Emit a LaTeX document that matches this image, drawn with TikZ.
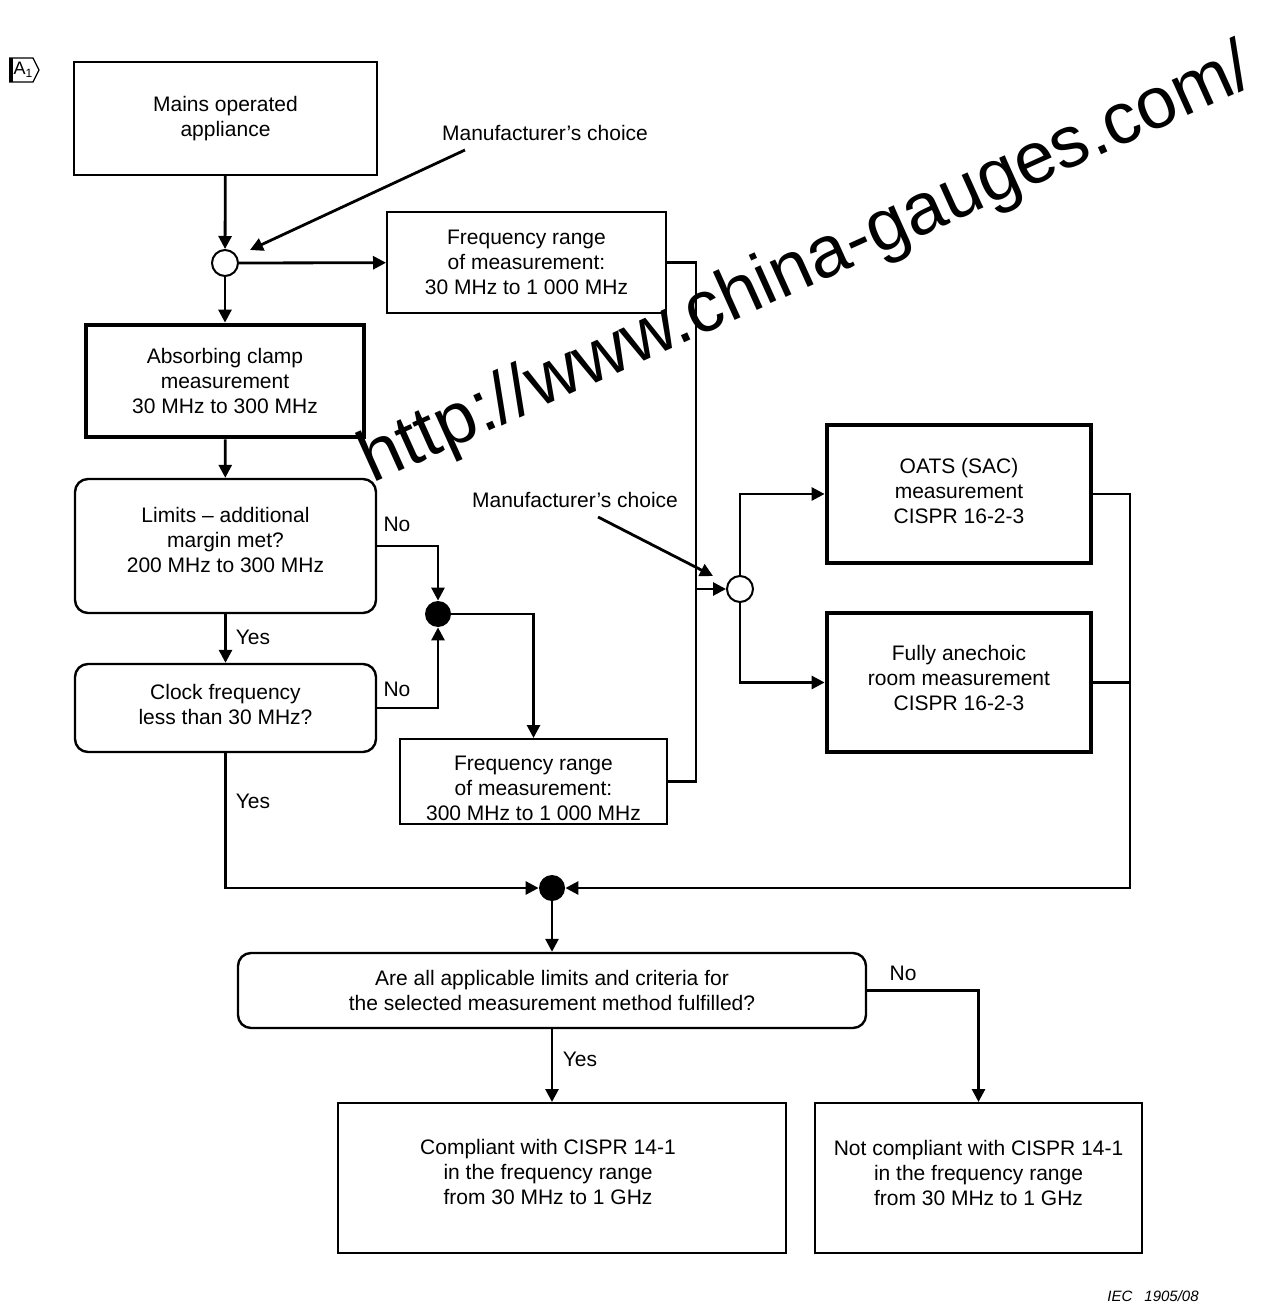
\documentclass[tikz,border=0pt]{standalone}
\usepackage{fontspec}
\setmainfont{Liberation Sans}
\usetikzlibrary{arrows.meta}
\begin{document}
\begin{tikzpicture}[x=0.5pt,y=-0.5pt,
  font=\fontsize{10.5pt}{12.5pt}\selectfont,
  >={Triangle[length=6.5pt,width=6.5pt]},
  conn/.style={line width=1.4pt},
  box/.style={draw,line width=1pt,align=center,inner sep=0pt},
  thickbox/.style={box,line width=2.4pt},
  rbox/.style={box,line width=1.2pt,rounded corners=6.5pt},
  sz/.style 2 args={minimum width=#1*0.5pt,minimum height=#2*0.5pt},
  junc/.style={circle,draw,line width=1pt,fill=white,minimum size=13pt,inner sep=0pt},
  dot/.style={circle,fill=black,minimum size=13pt,inner sep=0pt},
  lbl/.style={inner sep=0pt},
  btext/.style={inner sep=0pt,align=center}]
\useasboundingbox (0,0) rectangle (1281,1304);

% A1 marker
\fill (9,58) rectangle (13,82);
\draw[line width=0.6pt] (9,58) -- (33,58) -- (39,70) -- (33,82) -- (9,82);
\node[lbl,font=\fontsize{9pt}{10pt}\selectfont] (a1) at (23,70) {A\raisebox{-0.35ex}{\fontsize{6pt}{7pt}\selectfont 1}};

% watermark
\node[lbl,font=\fontsize{36.4pt}{40pt}\selectfont,rotate=24.3,anchor=base west] (wm) at (372,484) {http://www.china-gauges.com/};

% nodes
\node[box,sz={303}{113}] (mains) at (225.5,118.5) {Mains operated\\appliance};
\node[junc] (c1) at (225,263) {};
\node[box,sz={279}{101}] (freq1) at (526.5,262.5) {Frequency range\\of measurement:\\30 MHz to 1 000 MHz};
\node[thickbox,sz={278}{112}] (absorb) at (225,381) {Absorbing clamp\\measurement\\30 MHz to 300 MHz};
\node[rbox,sz={301}{134}] (limits) at (225.5,546) {};
\node[btext] (limitstext) at (225.5,540) {Limits – additional\\margin met?\\200 MHz to 300 MHz};
\node[rbox,sz={301}{88}] (clock) at (225.5,708) {};
\node[btext] (clocktext) at (225.5,704) {Clock frequency\\less than 30 MHz?};
\node[dot] (d1) at (438,614) {};
\node[box,sz={267}{85}] (freq2) at (533.5,781.5) {};
\node[btext] (freq2text) at (533.5,788) {Frequency range\\of measurement:\\300 MHz to 1 000 MHz};
\node[junc] (c2) at (740,589) {};
\node[thickbox,sz={264}{138}] (oats) at (959,494) {};
\node[btext] (oatstext) at (959,491) {OATS (SAC)\\measurement\\CISPR 16-2-3};
\node[thickbox,sz={264}{139}] (anech) at (959,682.5) {};
\node[btext] (anechtext) at (959,678) {Fully anechoic\\room measurement\\CISPR 16-2-3};
\node[dot] (d2) at (552,888) {};
\node[rbox,sz={628}{75}] (quest) at (552,990.5) {Are all applicable limits and criteria for\\the selected measurement method fulfilled?};
\node[box,sz={448}{150}] (comp) at (562,1178) {};
\node[btext] (comptext) at (548,1172) {Compliant with CISPR 14-1\\in the frequency range\\from 30 MHz to 1 GHz};
\node[box,sz={327}{150}] (ncomp) at (978.5,1178) {};
\node[btext] (ncomptext) at (978.5,1173) {Not compliant with CISPR 14-1\\in the frequency range\\from 30 MHz to 1 GHz};

% labels
\node[lbl] (mc1) at (545,133) {Manufacturer’s choice};
\node[lbl] (mc2) at (575,500) {Manufacturer’s choice};
\node[lbl] (no1) at (397,524) {No};
\node[lbl] (no2) at (397,689) {No};
\node[lbl] (yes1) at (253,637) {Yes};
\node[lbl] (yes2) at (253,801) {Yes};
\node[lbl] (yes3) at (580,1059) {Yes};
\node[lbl] (no3) at (903,973) {No};
\node[lbl,font=\fontsize{7.5pt}{9pt}\selectfont\itshape] (iec) at (1153,1296) {IEC\hspace{6pt}1905/08};

% connectors
\coordinate (m1a) at (465,150);
\coordinate (m1b) at (250,250);
\coordinate (m2a) at (598,517);
\coordinate (m2b) at (713,576);
\coordinate (bus) at (696,589);
\coordinate (rbus) at (1130,888);

\draw[conn,->] (m1a) -- (m1b);
\draw[conn,->] (m2a) -- (m2b);
\draw[conn,->] (mains) -- (c1);
\draw[conn,->] (c1) -- (freq1);
\draw[conn,->] (c1) -- (absorb);
\draw[conn,->] (absorb) -- (limits);
\draw[conn,->] (limits) -- (clock);
\draw[conn,->] (limits.east) -| (d1.north);
\draw[conn,->] (clock.east) -| (d1.south);
\draw[conn,->] (d1.east) -| (freq2.north);
\draw[conn] (freq1.east) -| (bus |- freq2.east) -- (freq2.east);
\draw[conn,->] (bus) -- (c2);
\draw[conn,->] (c2.north) |- (oats.west);
\draw[conn,->] (c2.south) |- (anech.west);
\draw[conn,->] (oats.east) -| (rbus) -- (d2.east);
\draw[conn] (anech.east) -- (anech.east -| rbus);
\draw[conn,->] (clock.south) |- (d2.west);
\draw[conn,->] (d2) -- (quest);
\draw[conn,->] (quest.south) -- (quest.south |- comp.north);
\draw[conn,->] (quest.east) -| (ncomp.north);
\end{tikzpicture}
\end{document}
